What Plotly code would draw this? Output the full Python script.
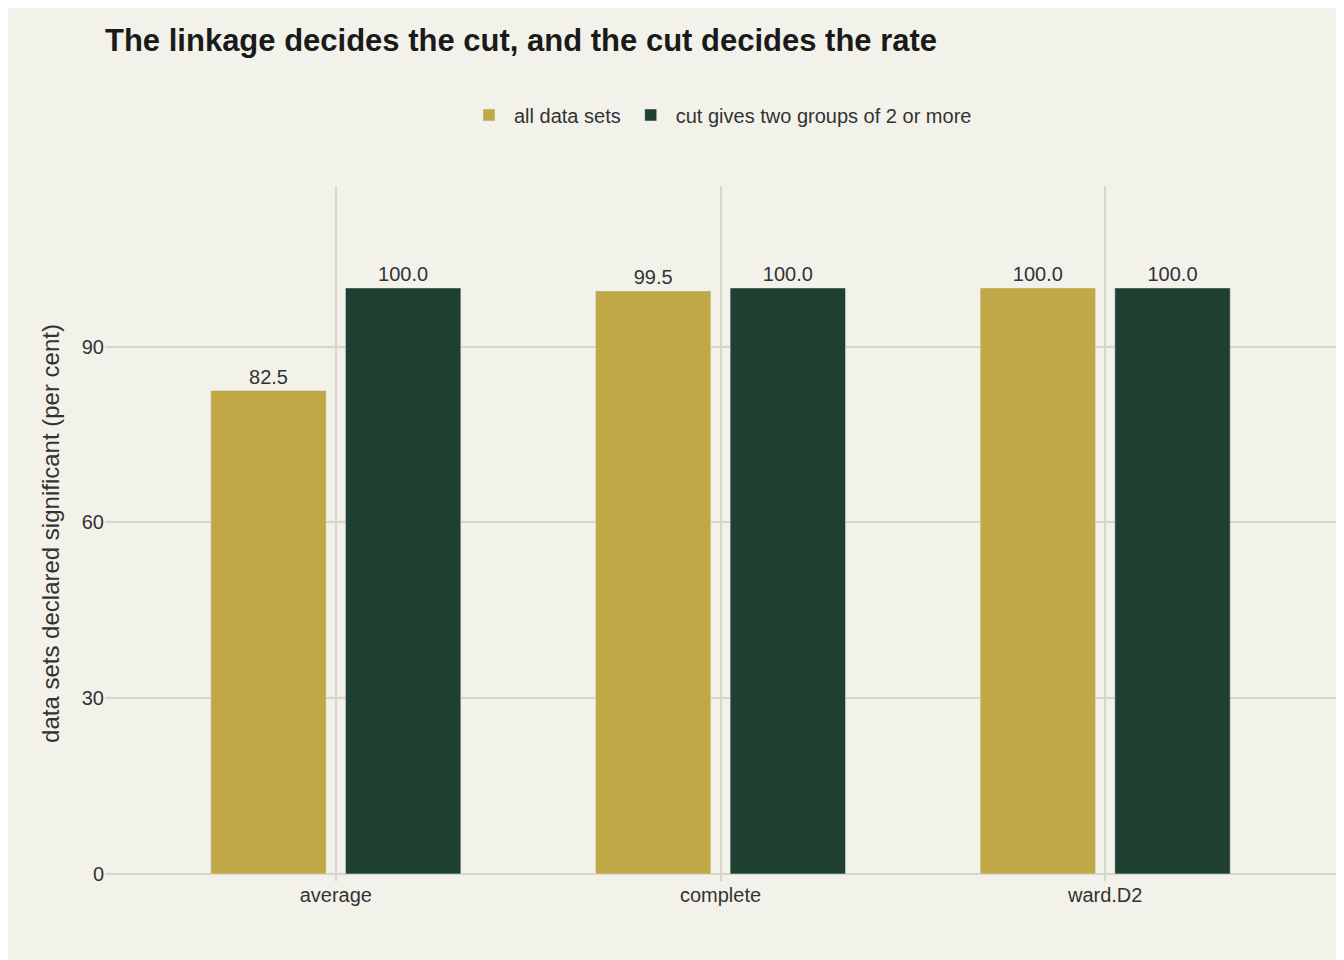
import plotly.graph_objects as go

categories = ["average", "complete", "ward.D2"]
all_sets = [82.5, 99.5, 100.0]
cut_sets = [100.0, 100.0, 100.0]
yticks = [0, 30, 60, 90]

font = "Liberation Sans, Arial, sans-serif"
fig = go.Figure()
fig.add_bar(x=categories, y=all_sets, name="all data sets", marker_color="#BFA845",
            width=0.3, offset=-0.325, text=[f"{v:.1f}" for v in all_sets],
            textposition="outside", textfont=dict(size=20, color="#333333"), cliponaxis=False)
fig.add_bar(x=categories, y=cut_sets, name="cut gives two groups of 2 or more", marker_color="#1F4030",
            width=0.3, offset=0.025, text=[f"{v:.1f}" for v in cut_sets],
            textposition="outside", textfont=dict(size=20, color="#333333"), cliponaxis=False)
fig.update_layout(
    width=1344, height=960, paper_bgcolor="#F2F2EB", plot_bgcolor="#F2F2EB",
    font=dict(family=font, color="#333333"),
    margin=dict(l=97, r=16, t=178, b=87),
    title=dict(text="<b>The linkage decides the cut, and the cut decides the rate</b>",
               x=97/1344, xanchor="left", y=1-32/960, yanchor="middle",
               font=dict(size=31, color="#1a1a1a")),
    legend=dict(orientation="h", x=0.5, xanchor="center", y=1+71/695, yanchor="middle",
                font=dict(size=20, color="#333333"), itemwidth=40, traceorder="normal"),
    showlegend=True,
)
fig.update_xaxes(range=[-0.6, 2.6], showgrid=True, gridcolor="#D5D5C8", gridwidth=1.5,
                 tickfont=dict(size=20), ticks="", zeroline=False, showline=False)
fig.update_yaxes(range=[-1.2, 117.4], tickvals=yticks, showgrid=True, gridcolor="#D5D5C8",
                 gridwidth=1.5, tickfont=dict(size=20), zeroline=False,
                 title=dict(text="data sets declared significant (per cent)", font=dict(size=24)))
fig.write_html("out.html")
